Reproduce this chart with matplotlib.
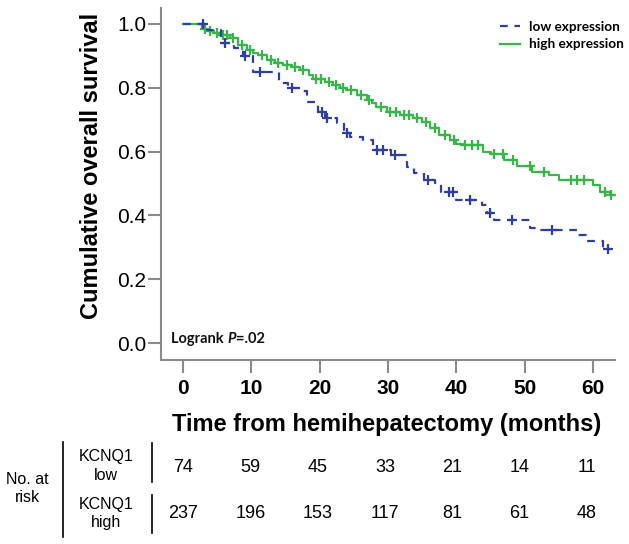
import matplotlib
matplotlib.use('Agg')
import matplotlib.pyplot as plt
import matplotlib.transforms as mtransforms
from matplotlib.lines import Line2D
import numpy as np

# ---------------- data ----------------
low_times = [0, 3.5, 5.5, 7.5, 8.8, 10.2, 14.0, 15.4, 17.3, 18.2, 19.8, 20.8, 22.5, 23.6, 24.5,
             26.3, 27.8, 30.5, 32.7, 33.8, 35.3, 36.8, 37.7, 40.0, 43.8, 44.5, 45.5, 50.8,
             52.3, 57.8, 59.0, 61.5, 62.5]
low_surv = [1.0, 0.98, 0.94, 0.925, 0.90, 0.85, 0.815, 0.80, 0.79, 0.755, 0.724, 0.705, 0.69,
            0.658, 0.646, 0.636, 0.605, 0.589, 0.552, 0.533, 0.511, 0.502, 0.473, 0.448, 0.433,
            0.408, 0.386, 0.361, 0.354, 0.339, 0.32, 0.295, 0.295]
low_censor = [2.9, 6.1, 9.1, 11.2, 16.0, 20.3, 21.0, 24.0, 28.4, 29.2, 31.0, 35.9, 38.9, 39.5,
              42.0, 44.9, 48.1, 54.0, 62.2]

high_times = [0, 2.8, 3.5, 4.5, 5.7, 6.9, 8.0, 9.3, 10.2, 11.0, 12.3, 13.4, 14.6, 15.9, 17.1,
              18.5, 19.0, 20.7, 21.9, 22.9, 23.9, 25.4, 26.9, 27.6, 28.3, 29.8, 31.7, 33.6,
              35.0, 36.1, 37.5, 39.0, 40.0, 40.9, 43.9, 45.0, 47.0, 48.8, 51.0, 53.5, 55.0,
              60.0, 61.0, 62.5, 63.0]
high_surv = [1.0, 0.985, 0.978, 0.972, 0.966, 0.956, 0.934, 0.918, 0.91, 0.903, 0.887, 0.879,
             0.871, 0.864, 0.856, 0.84, 0.828, 0.818, 0.809, 0.80, 0.793, 0.777, 0.762, 0.752,
             0.74, 0.724, 0.715, 0.705, 0.693, 0.674, 0.652, 0.636, 0.625, 0.62, 0.60, 0.592,
             0.575, 0.556, 0.536, 0.527, 0.511, 0.495, 0.473, 0.464, 0.464]
high_censor = [3.2, 4.0, 4.9, 5.9, 6.5, 7.3, 8.6, 9.8, 11.6, 12.8, 13.9, 15.2, 16.4, 17.6, 19.5,
               20.2, 21.3, 22.4, 23.4, 24.6, 26.0, 27.2, 28.9, 30.3, 31.2, 32.3, 33.0, 34.2,
               35.6, 36.8, 38.3, 39.6, 41.3, 42.3, 43.2, 45.5, 46.8, 48.3, 50.8, 52.8, 56.8,
               57.7, 58.7, 61.7, 62.6]

risk_times = [0, 10, 20, 30, 40, 50, 60]
risk_low = [74, 59, 45, 33, 21, 14, 11]
risk_high = [237, 196, 153, 117, 81, 61, 48]

x_ticks = [0, 10, 20, 30, 40, 50, 60]
y_ticks = [0.0, 0.2, 0.4, 0.6, 0.8, 1.0]
y_tick_labels = ['0.0', '0.2', '0.4', '0.6', '0.8', '1.0']

series_labels = ['low expression', 'high expression']

# ---------------- style ----------------
plt.rcParams['font.family'] = ['Liberation Sans', 'DejaVu Sans']
BLUE = '#2e3f9f'
GREEN = '#3ab54a'
GRAY = '#8a8a8a'
DASH = (0, (3.5, 3))
W, H = 629, 544

fig = plt.figure(figsize=(W / 100, H / 100), dpi=100)
ax = fig.add_axes([161 / W, 1 - 360 / H, (615 - 161) / W, (360 - 8) / H])
ax.set_xlim(-3.22, 63.2)
ax.set_ylim(-0.053, 1.05)


def censor_y(times, surv, cens):
    idx = np.searchsorted(np.asarray(times), np.asarray(cens), side='right') - 1
    return np.asarray(surv)[idx]


ax.step(high_times, high_surv, where='post', color=GREEN, lw=1.6, zorder=3)
ax.plot(high_censor, censor_y(high_times, high_surv, high_censor), ls='none', marker='+',
        ms=7, mew=1.6, color=GREEN, zorder=3)
ax.step(low_times, low_surv, where='post', color=BLUE, lw=1.6, ls=DASH, zorder=4)
ax.plot(low_censor, censor_y(low_times, low_surv, low_censor), ls='none', marker='+',
        ms=7, mew=1.6, color=BLUE, zorder=4)

for s in ['top', 'right']:
    ax.spines[s].set_visible(False)
for s in ['left', 'bottom']:
    ax.spines[s].set_color(GRAY)
    ax.spines[s].set_linewidth(1.5)

ax.set_xticks(x_ticks)
ax.set_yticks(y_ticks)
ax.set_yticklabels(y_tick_labels)
ax.tick_params(axis='both', direction='out', length=9.5, width=1.5, color=GRAY,
               labelsize=15, labelcolor='black')
ax.tick_params(axis='y', pad=1)
ax.tick_params(axis='x', pad=4.5)
for lab in ax.get_xticklabels():
    lab.set_fontweight('bold')

ax.set_xlabel('Time from hemihepatectomy (months)', fontsize=17, fontweight='bold')
ax.xaxis.label.set_va('center')
ax.xaxis.set_label_coords(0.497, (360 - 425) / 352)
ax.set_ylabel('Cumulative overall survival', fontsize=17, fontweight='bold')
ax.yaxis.label.set_va('center')
ax.yaxis.set_label_coords((92 - 161) / 454, (360 - 166) / 352)

handles = [Line2D([], [], color=BLUE, lw=1.6, ls=DASH), Line2D([], [], color=GREEN, lw=1.6)]
fig.legend(handles, series_labels, loc='upper left', bbox_to_anchor=(500 / W, 1 - 21 / H),
           bbox_transform=fig.transFigure, frameon=False, borderpad=0, borderaxespad=0,
           handlelength=1.45, handletextpad=0.7, labelspacing=0.4,
           prop={'family': 'Lato', 'weight': 'bold', 'size': 9.8})

lkw = dict(family='Lato', fontweight='bold', fontsize=10.5, color='#111111')
t1 = fig.text(171 / W, 1 - 339 / H, 'Logrank ', ha='left', va='center', **lkw)
t2 = ax.annotate('P', xy=(1, 0), xycoords=t1, ha='left', va='bottom', fontstyle='italic', **lkw)
t3 = ax.annotate('=.02', xy=(1, 0), xycoords=t2, ha='left', va='bottom', **lkw)

# ---------------- at-risk table ----------------
blend = mtransforms.blended_transform_factory(ax.transData, fig.transFigure)
for t, n in zip(risk_times, risk_low):
    fig.text(t * 0.985, 1 - 467 / H, str(n), transform=blend, ha='center', va='center',
             fontsize=13)
for t, n in zip(risk_times, risk_high):
    fig.text(t * 0.985, 1 - 513 / H, str(n), transform=blend, ha='center', va='center',
             fontsize=13)

small = 11.5
fig.text(27 / W, 1 - 480 / H, 'No. at', ha='center', va='center', fontsize=small)
fig.text(27 / W, 1 - 498 / H, 'risk', ha='center', va='center', fontsize=small)
fig.text(106 / W, 1 - 457 / H, 'KCNQ1', ha='center', va='center', fontsize=small)
fig.text(106 / W, 1 - 475 / H, 'low', ha='center', va='center', fontsize=small)
fig.text(106 / W, 1 - 505 / H, 'KCNQ1', ha='center', va='center', fontsize=small)
fig.text(106 / W, 1 - 523 / H, 'high', ha='center', va='center', fontsize=small)

for x, y0, y1 in [(63, 442, 537), (152, 443, 482), (152, 495, 533)]:
    fig.add_artist(Line2D([x / W, x / W], [1 - y0 / H, 1 - y1 / H], transform=fig.transFigure,
                          color='black', lw=1.2))

fig.savefig('out.png', dpi=100)
